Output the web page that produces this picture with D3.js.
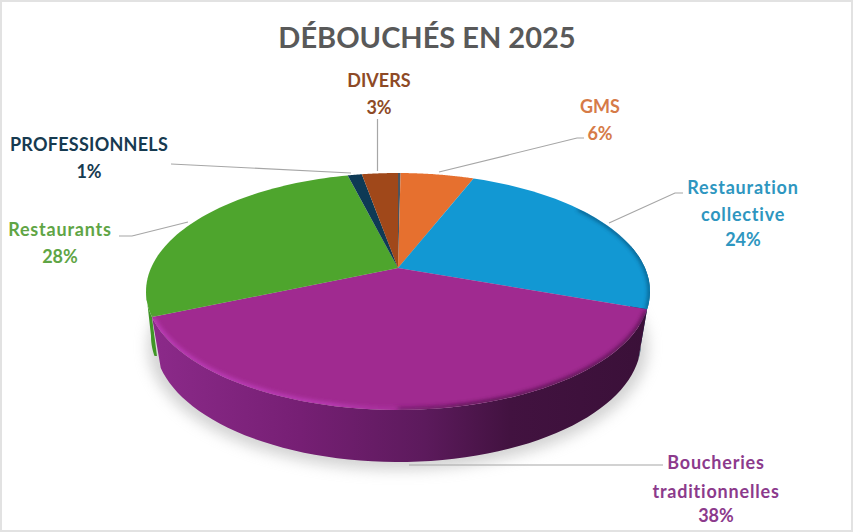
<!DOCTYPE html>
<html>
<head>
<meta charset="utf-8">
<script src="https://cdnjs.cloudflare.com/ajax/libs/d3/7.9.0/d3.min.js"></script>
<style>
body { margin: 0; background: #fff; }
text { font-family: Lato, sans-serif; font-weight: 700; }
</style>
</head>
<body>
<div id="frame"></div>
<script>
// debouches 2025 - fake 3D pie
const categories = ["", "GMS", "Restauration collective", "Boucheries traditionnelles", "Restaurants", "PROFESSIONNELS", "DIVERS"];
const values = [0.2, 5.7, 24.6, 38.0, 27.6, 1.1, 2.8];
const percentLabels = ["", "6%", "24%", "38%", "28%", "1%", "3%"];
const colors = ["#4a5560", "#e6702f", "#1298d3", "#a02a90", "#4ea52d", "#0e3a55", "#a0481a"];
const textColors = ["", "#d67b48", "#2e96c0", "#8c3a8c", "#5fa545", "#163a50", "#8e4a26"];
const wallDark = ["#2b3544", "#8a431e", "#0b3a5c", "#3a1038", "#3f9526", "#0a1c2e", "#6b3011"];

const WIDTH = 853, HEIGHT = 532;

// perspective disc : apex of the pie is above the centre of the ellipse
const APEX = {x: 398, y: 268};
const K = 0.198, BX = 247, BY = 113.8;
const BOTTOM = {cx: 398, cy: 342, rx: 243, ry: 120};

const SVG = d3.select("#frame").append("svg")
    .attr("width", WIDTH)
    .attr("height", HEIGHT);

const defs = SVG.append("defs");
defs.append("filter").attr("id", "blur8")
    .attr("x", "-20%").attr("y", "-20%").attr("width", "140%").attr("height", "140%")
    .append("feGaussianBlur").attr("stdDeviation", 7);
defs.append("filter").attr("id", "blur2")
    .attr("filterUnits", "userSpaceOnUse")
    .attr("x", 0).attr("y", 0).attr("width", WIDTH).attr("height", HEIGHT)
    .append("feGaussianBlur").attr("stdDeviation", 2);

const rim = defs.append("linearGradient").attr("id", "rimPurple")
    .attr("gradientUnits", "userSpaceOnUse")
    .attr("x1", 150).attr("x2", 650).attr("y1", 0).attr("y2", 0);
[[0, "#8c2a8a"], [0.3, "#761f74"], [0.55, "#5c1a5c"], [0.72, "#421240"], [1, "#3a1038"]].forEach((s) => {
    rim.append("stop").attr("offset", s[0]).attr("stop-color", s[1]);
});
const bevel = defs.append("linearGradient").attr("id", "bevelPurple")
    .attr("gradientUnits", "userSpaceOnUse")
    .attr("x1", 150).attr("x2", 480).attr("y1", 0).attr("y2", 0);
[[0, "#c040be", 0.9], [0.55, "#c040be", 0.9], [1, "#a02a90", 0]].forEach((s) => {
    bevel.append("stop").attr("offset", s[0]).attr("stop-color", s[1]).attr("stop-opacity", s[2]);
});

// d3 pie gives the angles, clockwise from 12 o'clock
const arcs = d3.pie().sort(null).value((d) => d)(values);

const topPoint = (a) => {
    const u = Math.sin(a), v = -Math.cos(a);
    const w = 1 - K * v;
    return [APEX.x + BX * u / w, APEX.y + BY * v / w];
};

// the same rim point on the lower ellipse, same horizontal fraction
const bottomPoint = (a) => {
    const p = topPoint(a);
    const t = Math.max(-1, Math.min(1, (p[0] - 398) / 252));
    const sign = p[1] < 292 ? -1 : 1;
    return [BOTTOM.cx + BOTTOM.rx * t, BOTTOM.cy + sign * BOTTOM.ry * Math.sqrt(1 - t * t)];
};

const sampleAngles = (a0, a1) => d3.range(0, 61).map((i) => a0 + (a1 - a0) * i / 60);
const line = d3.line();

// frame of the screenshot
SVG.append("rect")
    .attr("x", 1).attr("y", 1)
    .attr("width", WIDTH - 2).attr("height", HEIGHT - 2)
    .attr("fill", "#fff")
    .attr("stroke", "#e2e2e2")
    .attr("stroke-width", 2);

// soft shadow under the disc
SVG.append("ellipse")
    .attr("cx", BOTTOM.cx).attr("cy", BOTTOM.cy + 5)
    .attr("rx", BOTTOM.rx + 7).attr("ry", BOTTOM.ry + 3)
    .attr("fill", "#a8a8a8").attr("opacity", 0.5)
    .attr("filter", "url(#blur8)");

// green wall first, it is just the rim pushed down and sits behind the purple one
// stop at the leftmost point of the rim so the wall does not fold back under the disc
const GREEN = 4;
const greenAll = sampleAngles(arcs[GREEN].startAngle, 3 * Math.PI / 2 + 0.2).map(topPoint);
const greenTop = greenAll.slice(0, d3.leastIndex(greenAll, (a, b) => a[0] - b[0]) + 1);
const greenLow = greenTop.map((p) => [p[0] + 5, Math.min(p[1] + 45, 356)]).reverse();
SVG.append("path")
    .attr("d", line(greenTop.concat(greenLow)) + "Z")
    .attr("fill", wallDark[GREEN]);

// side walls, only what faces the viewer
const SIDE_MIN = Math.PI / 2 - 0.2, SIDE_MAX = 3 * Math.PI / 2 + 0.2;
arcs.forEach((d, i) => {
    if (i === GREEN) return;
    const a0 = Math.max(d.startAngle, SIDE_MIN), a1 = Math.min(d.endAngle, SIDE_MAX);
    if (a1 <= a0) return;
    const upper = sampleAngles(a0, a1).map(topPoint);
    const lower = sampleAngles(a0, a1).map(bottomPoint).reverse();
    SVG.append("path")
        .attr("d", line(upper.concat(lower)) + "Z")
        .attr("fill", i === 3 ? "url(#rimPurple)" : wallDark[i]);
});

// top of the disc
defs.append("clipPath").attr("id", "discClip")
    .append("path")
        .attr("d", line(sampleAngles(0, 2 * Math.PI).map(topPoint)) + "Z");
arcs.forEach((d, i) => {
    const pts = [[APEX.x, APEX.y]].concat(sampleAngles(d.startAngle, d.endAngle).map(topPoint));
    SVG.append("path")
        .attr("d", line(pts) + "Z")
        .attr("fill", colors[i]);
});

// soft edges : dark on the blue and right purple rim, light on the left purple rim
const EDGES = SVG.append("g").attr("clip-path", "url(#discClip)");
EDGES.append("path")
    .attr("d", line(sampleAngles(0.95, arcs[2].endAngle).map(topPoint)))
    .attr("fill", "none")
    .attr("stroke", "#0b3a5c")
    .attr("stroke-width", 3)
    .attr("opacity", 0.8)
    .attr("filter", "url(#blur2)");
EDGES.append("path")
    .attr("d", line(sampleAngles(arcs[3].startAngle + 0.02, Math.PI).map(topPoint)))
    .attr("fill", "none")
    .attr("stroke", "#3a1038")
    .attr("stroke-width", 4)
    .attr("opacity", 0.8)
    .attr("filter", "url(#blur2)");
EDGES.append("path")
    .attr("d", line(sampleAngles(Math.PI - 0.2, arcs[3].endAngle - 0.01).map(topPoint)))
    .attr("fill", "none")
    .attr("stroke", "url(#bevelPurple)")
    .attr("stroke-width", 5)
    .attr("filter", "url(#blur2)");

// leader lines
const LEADERS = [
    [[439, 172], [577, 138], [584, 138]],
    [[609, 223], [675, 193], [683, 193]],
    [[409, 465], [663, 465]],
    [[188, 222], [132, 236], [119, 236]],
    [[171, 164], [351, 173]],
    [[377.5, 171], [377.5, 119]]
];
SVG.selectAll("leader").data(LEADERS).enter()
    .append("path")
        .attr("d", (d) => line(d))
        .attr("fill", "none")
        .attr("stroke", "#a6a6a6")
        .attr("stroke-width", 1.2);

// title + labels
SVG.append("text")
    .attr("x", 427).attr("y", 48)
    .attr("text-anchor", "middle")
    .attr("font-size", 29)
    .attr("fill", "#595959")
    .text("DÉBOUCHÉS EN 2025");

const LABELS = [
    {i: 1, x: 600, y: [113, 140], lines: ["GMS"]},
    {i: 2, x: 743, y: [194, 221, 246], lines: ["Restauration", "collective"]},
    {i: 3, x: 716, y: [469, 498, 522], lines: ["Boucheries", "traditionnelles"]},
    {i: 4, x: 60, y: [236, 263], lines: ["Restaurants"]},
    {i: 5, x: 89, y: [151, 178], lines: ["PROFESSIONNELS"]},
    {i: 6, x: 379, y: [87, 114], lines: ["DIVERS"]}
];
LABELS.forEach((l) => {
    const rows = l.lines.concat(percentLabels[l.i]);
    rows.forEach((t, r) => {
        const mixed = /[a-z]/.test(t);
        SVG.append("text")
            .attr("x", l.x).attr("y", l.y[r])
            .attr("text-anchor", "middle")
            .attr("font-size", 18)
            .attr("letter-spacing", mixed ? 0.8 : (t.length > 6 ? 0.25 : 0))
            .attr("fill", textColors[l.i])
            .text(t);
    });
});
</script>
</body>
</html>
